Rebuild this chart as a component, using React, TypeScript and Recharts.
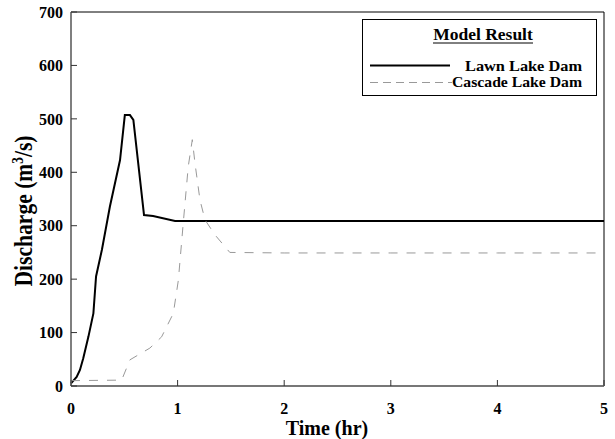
import { LineChart, Line, XAxis, YAxis, ReferenceLine } from "recharts";

const lawnTime = [0, 0.053, 0.084, 0.115, 0.163, 0.21, 0.235, 0.29, 0.365, 0.46, 0.505, 0.553, 0.585, 0.685, 0.77, 0.976, 2, 3, 4, 5];
const lawnFlow = [5, 17, 30, 52, 92, 136, 205, 255, 336, 423, 507, 507, 498, 320, 318, 309, 309, 309, 309, 309];

const cascadeTime = [0, 0.475, 0.553, 0.74, 0.85, 0.96, 1.007, 1.053, 1.1, 1.138, 1.163, 1.21, 1.257, 1.35, 1.49, 2, 3, 4, 5];
const cascadeFlow = [10, 11, 49, 71, 92, 136, 198, 305, 411, 461, 417, 348, 311, 283, 250, 249, 249, 249, 249];

const xTicks = [0, 1, 2, 3, 4, 5];
const yTicks = [0, 100, 200, 300, 400, 500, 600, 700];

const lawnData = lawnTime.map((t, i) => ({ t, q: lawnFlow[i] }));
const cascadeData = cascadeTime.map((t, i) => ({ t, q: cascadeFlow[i] }));

const font = "'Liberation Serif', 'Times New Roman', serif";
const tickStyle = { fontFamily: font, fontWeight: 700, fontSize: 16, fill: "#000" };

function YLabel() {
  return (
    <text
      transform="translate(32 211) rotate(-90) scale(0.83 1)"
      textAnchor="middle"
      style={{ fontFamily: font, fontWeight: 700, fontSize: 26, fill: "#000" }}
    >
      Discharge (m
      <tspan dy={-9} fontSize={16}>3</tspan>
      <tspan dy={9}>/s)</tspan>
    </text>
  );
}

function XLabel() {
  return (
    <text
      x={327}
      y={435}
      textAnchor="middle"
      style={{ fontFamily: font, fontWeight: 700, fontSize: 20, fill: "#000" }}
    >
      Time (hr)
    </text>
  );
}

function ModelLegend() {
  const txt = { fontSize: 14, fontFamily: font, fontWeight: 700 };
  return (
    <div
      style={{
        position: "absolute",
        left: 362,
        top: 19,
        width: 235,
        height: 77,
        border: "1px solid #000",
        boxSizing: "border-box",
        background: "#fff",
      }}
    >
      <svg width={235} height={77} style={{ position: "absolute", left: -1, top: -1 }}>
        <text x={121} y={21} textAnchor="middle" style={{ fontSize: 17.5, fontFamily: font, fontWeight: 700 }}>
          Model Result
        </text>
        <line x1={71} x2={171} y1={24} y2={24} stroke="#000" strokeWidth={1} />
        <line x1={8} x2={88} y1={46.5} y2={46.5} stroke="#000" strokeWidth={2} />
        <text x={103} y={52} textLength={117} lengthAdjust="spacingAndGlyphs" style={txt}>
          Lawn Lake Dam
        </text>
        <line x1={8} x2={90} y1={63.5} y2={63.5} stroke="#999" strokeWidth={1} strokeDasharray="8 5" />
        <text x={90} y={68} textLength={130} lengthAdjust="spacingAndGlyphs" style={txt}>
          Cascade Lake Dam
        </text>
      </svg>
    </div>
  );
}

export default function App() {
  return (
    <div style={{ position: "absolute", left: 0, top: 0, width: 615, height: 439, background: "#fff" }}>
      <LineChart width={615} height={439} margin={{ top: 12, right: 11, bottom: 23, left: 0 }}>
        <XAxis
          dataKey="t"
          type="number"
          domain={[0, 5]}
          ticks={xTicks}
          allowDuplicatedCategory={false}
          height={30}
          tick={tickStyle}
          tickSize={-6}
          tickMargin={23}
          axisLine={{ stroke: "#777", strokeWidth: 2 }}
          tickLine={{ stroke: "#333" }}
          label={<XLabel />}
        />
        <YAxis
          dataKey="q"
          type="number"
          domain={[0, 700]}
          ticks={yTicks}
          width={71}
          tick={tickStyle}
          tickSize={-6}
          tickMargin={14}
          axisLine={{ stroke: "#555", strokeWidth: 1.5 }}
          tickLine={{ stroke: "#333" }}
          label={<YLabel />}
        />
        <ReferenceLine y={700} stroke="#000" strokeWidth={1} />
        <ReferenceLine x={5} stroke="#000" strokeWidth={1} />
        <Line
          data={lawnData}
          dataKey="q"
          type="linear"
          stroke="#000"
          strokeWidth={2}
          dot={false}
          isAnimationActive={false}
        />
        <Line
          data={cascadeData}
          dataKey="q"
          type="linear"
          stroke="#999"
          strokeWidth={1}
          strokeDasharray="9 9"
          dot={false}
          isAnimationActive={false}
        />
      </LineChart>
      <ModelLegend />
    </div>
  );
}
